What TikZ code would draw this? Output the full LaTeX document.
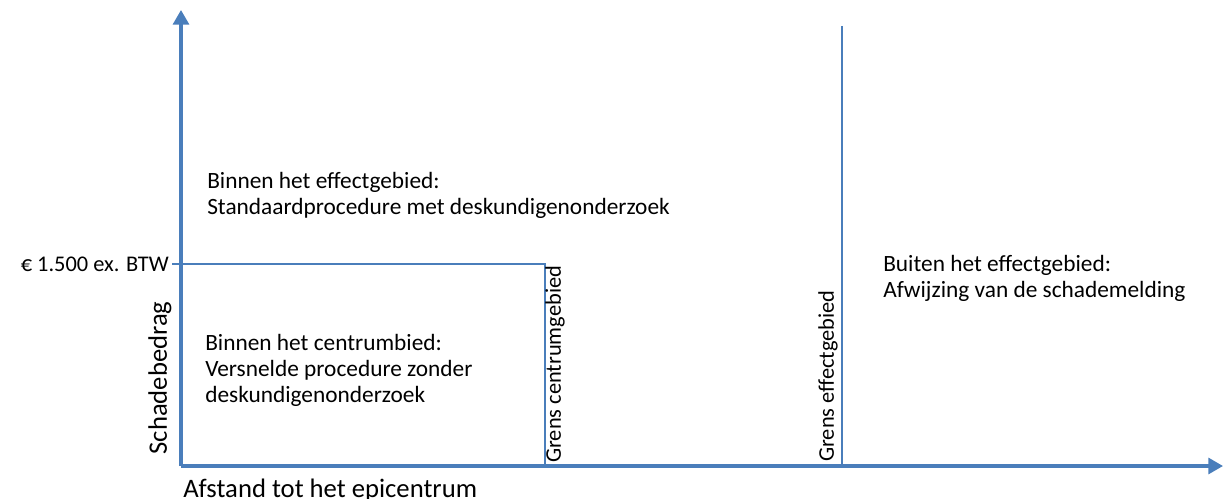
\documentclass[tikz,border=0pt]{standalone}
\usepackage{fontspec}
\setmainfont{Carlito}
\usetikzlibrary{arrows.meta}
\definecolor{axisblue}{HTML}{4A7EBB}
\begin{document}
\begin{tikzpicture}[x=0.75pt,y=-0.75pt,
  axis/.style={draw=axisblue,line width=2.3pt,-{Triangle[width=12pt,length=11pt]}},
  bound/.style={draw=axisblue,line width=2.2pt},
  thin/.style={draw=axisblue,line width=1.3pt},
  lbl/.style={inner sep=0pt,font=\fontsize{17.5}{19.5}\selectfont,align=left},
  small/.style={inner sep=0pt,font=\fontsize{16.8}{19.5}\selectfont},
  big/.style={inner sep=0pt,font=\fontsize{20}{24}\selectfont}]
\useasboundingbox (0,0) rectangle (1223,499);
\coordinate (O) at (181,466);
\coordinate (Ytip) at (181,10);
\coordinate (Xtip) at (1223,466);
\coordinate (T1) at (172,264);
\coordinate (T2) at (545,264);
\coordinate (T3) at (545,466);
\coordinate (E1) at (842,26);
\coordinate (E2) at (842,466);
\draw[thin] (T1) -- (T2) -- (T3);
\draw[bound] (E1) -- (E2);
\draw[axis] (O) -- (Ytip);
\draw[axis] (O) -- (Xtip);
\node[small,anchor=east] (thr) at (169,264) {€ 1.500 ex. BTW};
\node[lbl,anchor=west] (eff) at (207,195) {Binnen het effectgebied:\\Standaardprocedure met deskundigenonderzoek};
\node[lbl,anchor=west] (cen) at (205,370) {Binnen het centrumbied:\\Versnelde procedure zonder\\deskundigenonderzoek};
\node[lbl,anchor=west] (out) at (883,278) {Buiten het effectgebied:\\Afwijzing van de schademelding};
\node[big,anchor=north west] (xl) at (183,479) {Afstand tot het epicentrum};
\node[big,rotate=90] (yl) at (160,378) {Schadebedrag};
\node[small,rotate=90,anchor=west] (gc) at (555,463) {Grens centrumgebied};
\node[small,rotate=90,anchor=west] (ge) at (828,462) {Grens effectgebied};
\end{tikzpicture}
\end{document}
